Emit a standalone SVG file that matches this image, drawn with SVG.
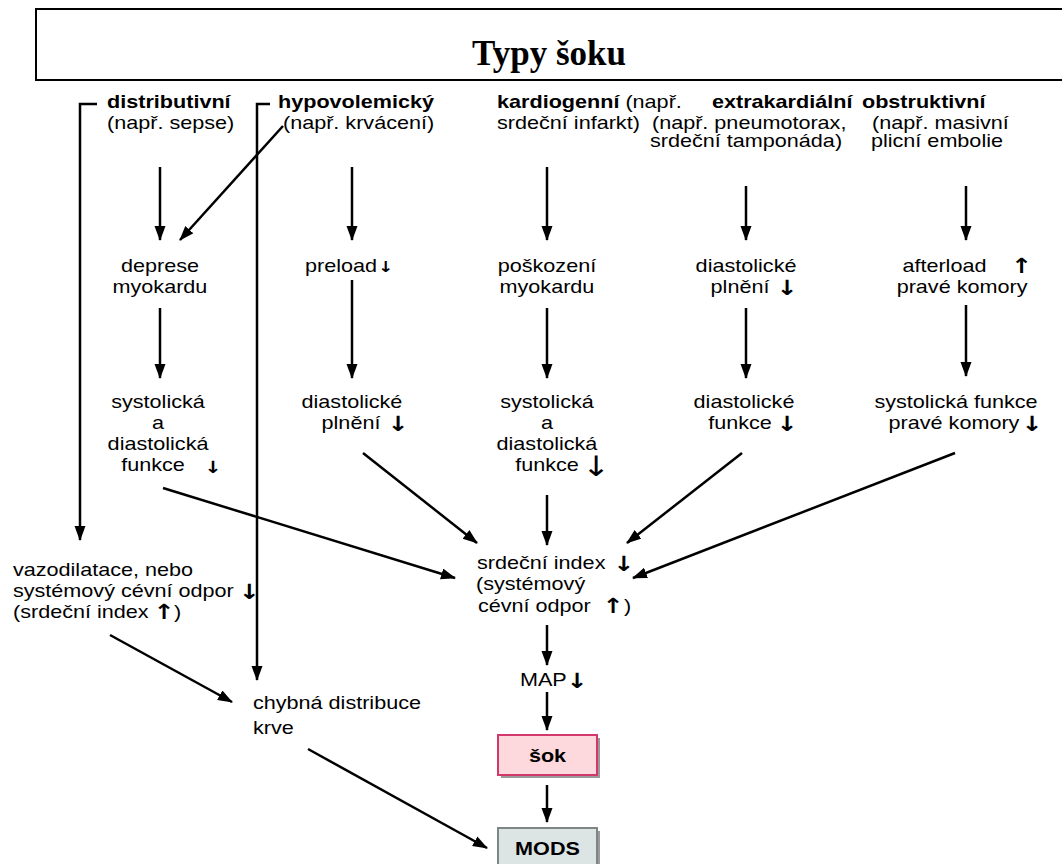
<svg xmlns="http://www.w3.org/2000/svg" width="1062" height="864" viewBox="0 0 1062 864">
<style>
text{font-family:"Liberation Sans",Arial,sans-serif;font-size:18px;fill:#000}
.b{font-weight:bold}
.m{text-anchor:middle}
.ar{font-family:"DejaVu Sans",sans-serif;font-size:21px;font-weight:bold;fill:#000}
.title{font-family:"Liberation Serif","Times New Roman",serif;font-size:35px;font-weight:bold;text-anchor:middle}
.c line,.c path{stroke:#000;stroke-width:2.5;fill:none}
.ln{marker-end:url(#ah)}
</style>
<defs>
<marker id="ah" markerUnits="userSpaceOnUse" markerWidth="15" markerHeight="12" refX="14" refY="5.5" orient="auto">
<path d="M0,0 L15,5.5 L0,11 z" fill="#000"/>
</marker>
</defs>
<rect width="1062" height="864" fill="#fff"/>
<g id="title">
<rect x="36" y="9" width="1040" height="71" fill="none" stroke="#000" stroke-width="2"/>
<text class="title" x="549" y="65">Typy šoku</text>
</g>
<g class="c" id="connectors">
<line class="ln" x1="160" y1="167" x2="160" y2="240"/>
<line class="ln" x1="283" y1="126" x2="180" y2="240"/>
<line class="ln" x1="352" y1="167" x2="352" y2="240"/>
<line class="ln" x1="547" y1="167" x2="547" y2="240"/>
<line class="ln" x1="746" y1="186" x2="746" y2="240"/>
<line class="ln" x1="966" y1="186" x2="966" y2="240"/>
<line class="ln" x1="160" y1="308" x2="160" y2="378"/>
<line class="ln" x1="352" y1="280" x2="352" y2="378"/>
<line class="ln" x1="547" y1="308" x2="547" y2="378"/>
<line class="ln" x1="746" y1="308" x2="746" y2="378"/>
<line class="ln" x1="966" y1="305" x2="966" y2="376"/>
<line class="ln" x1="163" y1="488" x2="455" y2="578"/>
<line class="ln" x1="363" y1="453" x2="477" y2="543"/>
<line class="ln" x1="547" y1="495" x2="547" y2="545"/>
<line class="ln" x1="742" y1="453" x2="627" y2="543"/>
<line class="ln" x1="955" y1="453" x2="633" y2="578"/>
<line class="ln" x1="547" y1="625" x2="547" y2="665"/>
<line class="ln" x1="547" y1="692" x2="547" y2="730"/>
<line class="ln" x1="547" y1="785" x2="547" y2="822"/>
<path class="ln" d="M97,104 H80 V540"/>
<path class="ln" d="M270,104 H257 V680"/>
<line class="ln" x1="110" y1="635" x2="232" y2="702"/>
<line class="ln" x1="308" y1="749" x2="487" y2="848"/>
</g>
<g id="distributivni" transform="scale(1.2 1)">
<text class="b" x="89.2" y="108">distributivní</text>
<text x="89.2" y="129">(např. sepse)</text>
</g>
<g id="hypovolemicky" transform="scale(1.2 1)">
<text class="b" x="231.7" y="108">hypovolemický</text>
<text x="235.8" y="129">(např. krvácení)</text>
</g>
<g id="kardiogenni" transform="scale(1.2 1)">
<text x="414.2" y="108"><tspan class="b">kardiogenní</tspan> (např.</text>
<text x="414.2" y="129">srdeční infarkt)</text>
</g>
<g id="extrakardialni" transform="scale(1.2 1)">
<text class="b" x="593.3" y="108">extrakardiální</text>
<text x="543.3" y="129">(např. pneumotorax,</text>
<text x="541.7" y="147">srdeční tamponáda)</text>
</g>
<g id="obstruktivni" transform="scale(1.2 1)">
<text class="b" x="718.3" y="108">obstruktivní</text>
<text x="726.7" y="129">(např. masivní</text>
<text x="725.8" y="147">plicní embolie</text>
</g>
<g id="deprese" transform="scale(1.2 1)">
<text class="m" x="133.3" y="272">deprese</text>
<text class="m" x="133.3" y="293">myokardu</text>
</g>
<g id="preload" transform="scale(1.2 1)">
<text x="254.2" y="272">preload<tspan class="ar" dx="1" style="font-size:15px">↓</tspan></text>
</g>
<g id="poskozeni" transform="scale(1.2 1)">
<text class="m" x="455.8" y="272">poškození</text>
<text class="m" x="455.8" y="293">myokardu</text>
</g>
<g id="diast-plneni-4" transform="scale(1.2 1)">
<text class="m" x="621.7" y="272">diastolické</text>
<text class="m" x="616.7" y="293">plnění<tspan class="ar" x="655.8" y="295">↓</tspan></text>
</g>
<g id="afterload" transform="scale(1.2 1)">
<text x="752" y="272">afterload<tspan class="ar" x="842.5" y="273">↑</tspan></text>
<text class="m" x="801.7" y="293">pravé komory</text>
</g>
<g id="sysdias-1" transform="scale(1.2 1)">
<text class="m" x="131.7" y="408">systolická</text>
<text class="m" x="131.7" y="429">a</text>
<text class="m" x="131.7" y="450">diastolická</text>
<text class="m" x="127.5" y="471">funkce<tspan class="ar" x="177.5" y="473" style="font-size:17px">↓</tspan></text>
</g>
<g id="diast-plneni-2" transform="scale(1.2 1)">
<text class="m" x="293.3" y="408">diastolické</text>
<text class="m" x="292.5" y="429">plnění<tspan class="ar" x="331.7" y="431">↓</tspan></text>
</g>
<g id="sysdias-3" transform="scale(1.2 1)">
<text class="m" x="455.8" y="408">systolická</text>
<text class="m" x="455.8" y="429">a</text>
<text class="m" x="455.8" y="450">diastolická</text>
<text class="m" x="455.8" y="471">funkce<tspan class="ar" x="496.7" y="476" style="font-size:28px;font-weight:normal">↓</tspan></text>
</g>
<g id="diast-funkce-4" transform="scale(1.2 1)">
<text class="m" x="620" y="408">diastolické</text>
<text class="m" x="616.7" y="429">funkce<tspan class="ar" x="655.8" y="431">↓</tspan></text>
</g>
<g id="sys-funkce-5" transform="scale(1.2 1)">
<text class="m" x="796.7" y="408">systolická funkce</text>
<text class="m" x="795" y="429">pravé komory<tspan class="ar" x="860" y="431">↓</tspan></text>
</g>
<g id="srdecni-index" transform="scale(1.2 1)">
<text x="397.5" y="569">srdeční index<tspan class="ar" x="511" y="571">↓</tspan></text>
<text x="396.7" y="590">(systémový</text>
<text x="398.3" y="612">cévní odpor<tspan class="ar" x="502" y="613">↑</tspan><tspan x="520" y="612">)</tspan></text>
</g>
<g id="map" transform="scale(1.2 1)">
<text x="433.3" y="686">MAP<tspan class="ar" x="472" y="688">↓</tspan></text>
</g>
<g id="vazodilatace" transform="scale(1.2 1)">
<text x="10.8" y="576">vazodilatace, nebo</text>
<text x="10.8" y="597">systémový cévní odpor<tspan class="ar" x="199" y="599">↓</tspan></text>
<text x="10.8" y="618">(srdeční index<tspan class="ar" x="128" y="619">↑</tspan><tspan x="145" y="618">)</tspan></text>
</g>
<g id="chybna" transform="scale(1.2 1)">
<text x="210.8" y="709">chybná distribuce</text>
<text x="210.8" y="734">krve</text>
</g>
<g id="sok">
<rect x="501" y="738" width="99" height="40" fill="#9a9a9a"/>
<rect x="498" y="735" width="99" height="40" fill="#fdd8dc" stroke="#d3386a" stroke-width="2"/>
<text class="b m" transform="translate(547.5 762) scale(1.2 1)">šok</text>
</g>
<g id="mods">
<rect x="501" y="831" width="99" height="40" fill="#9a9a9a"/>
<rect x="498" y="828" width="99" height="40" fill="#dde4e4" stroke="#7d8585" stroke-width="2"/>
<text class="b m" transform="translate(547.5 855) scale(1.2 1)">MODS</text>
</g>
</svg>
